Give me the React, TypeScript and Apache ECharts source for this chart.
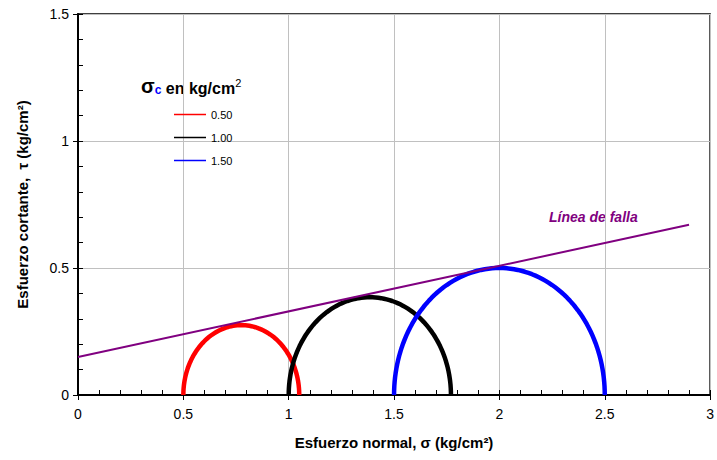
import React, { useEffect, useRef } from "react";
import * as echarts from "echarts";

// Mohr circles: minor and major principal stresses (kg/cm²)
const confiningLabels = ["0.50", "1.00", "1.50"];
const sigma3 = [0.5, 1.0, 1.5];
const sigma1 = [1.05, 1.77, 2.5];
const circleColors = ["#ff0000", "#000000", "#0000ff"];

// Failure envelope end points [σ, τ]
const failureLine = [
  [0, 0.15],
  [2.9, 0.67],
];

const xTicks = { min: 0, max: 3, interval: 0.5, minorInterval: 0.1 };
const yTicks = { min: 0, max: 1.5, interval: 0.5, minorInterval: 0.1 };

const FONT = "'Liberation Sans', Arial, sans-serif";

// Upper half of a Mohr circle through σ3 and σ1
function semicircle(s3: number, s1: number, steps = 90): number[][] {
  const c = (s1 + s3) / 2;
  const r = (s1 - s3) / 2;
  const pts: number[][] = [];
  for (let i = 0; i <= steps; i++) {
    const a = Math.PI - (Math.PI * i) / steps;
    pts.push([c + r * Math.cos(a), r * Math.sin(a)]);
  }
  return pts;
}

const nameStyle = { fontFamily: FONT, fontSize: 15, fontWeight: "bold", color: "#000" };
const tickLine = { color: "#000", width: 1 };

export default function App() {
  const ref = useRef<HTMLDivElement>(null);

  useEffect(() => {
    if (!ref.current) return;
    const chart = echarts.init(ref.current, null, { renderer: "svg" });

    const circleSeries = confiningLabels.map((name, i) => ({
      name,
      type: "line",
      data: semicircle(sigma3[i], sigma1[i]),
      showSymbol: false,
      symbol: "none",
      lineStyle: { color: circleColors[i], width: 4.5 },
      itemStyle: { color: circleColors[i] },
      z: 3,
    }));

    chart.setOption({
      animation: false,
      textStyle: { fontFamily: FONT },
      grid: {
        left: 78,
        right: 6,
        top: 14,
        bottom: 65,
        show: true,
        borderColor: "#000",
        borderWidth: 1.5,
      },
      legend: {
        data: confiningLabels,
        orient: "vertical",
        left: 169,
        top: 103,
        itemWidth: 32,
        itemHeight: 1.5,
        itemGap: 10,
        icon: "rect",
        textStyle: { fontFamily: FONT, fontSize: 11, color: "#000", lineHeight: 13 },
      },
      xAxis: [
        {
          type: "value",
          min: xTicks.min,
          max: xTicks.max,
          interval: xTicks.interval,
          name: "Esfuerzo normal, σ (kg/cm²)",
          nameLocation: "middle",
          nameGap: 40,
          nameTextStyle: nameStyle,
          axisLine: { onZero: false, lineStyle: { color: "#000", width: 2 } },
          axisTick: { show: true, inside: false, length: 5, lineStyle: tickLine },
          axisLabel: { fontFamily: FONT, fontSize: 14, color: "#000", margin: 12 },
          splitLine: { show: true, lineStyle: { color: "#c0c0c0", width: 1 } },
        },
        {
          // minor ticks pointing into the plot
          type: "value",
          position: "bottom",
          min: xTicks.min,
          max: xTicks.max,
          interval: xTicks.minorInterval,
          axisLine: { show: false, onZero: false },
          axisTick: { show: true, inside: true, length: 5, lineStyle: tickLine },
          axisLabel: { show: false },
          splitLine: { show: false },
        },
      ],
      yAxis: [
        {
          type: "value",
          min: yTicks.min,
          max: yTicks.max,
          interval: yTicks.interval,
          name: "Esfuerzo cortante,  τ (kg/cm²)",
          nameLocation: "middle",
          nameGap: 48,
          nameTextStyle: nameStyle,
          axisLine: { show: true, lineStyle: { color: "#000", width: 2 } },
          axisTick: { show: true, inside: false, length: 5, lineStyle: tickLine },
          axisLabel: { fontFamily: FONT, fontSize: 14, color: "#000", margin: 9 },
          splitLine: { show: true, lineStyle: { color: "#c0c0c0", width: 1 } },
        },
        {
          type: "value",
          position: "left",
          min: yTicks.min,
          max: yTicks.max,
          interval: yTicks.minorInterval,
          axisLine: { show: false },
          axisTick: { show: true, inside: true, length: 5, lineStyle: tickLine },
          axisLabel: { show: false },
          splitLine: { show: false },
        },
      ],
      series: [
        ...circleSeries,
        {
          name: "Línea de falla",
          type: "line",
          data: failureLine,
          showSymbol: false,
          symbol: "none",
          lineStyle: { color: "#800080", width: 2 },
          z: 4,
        },
      ],
      graphic: [
        {
          type: "text",
          left: 141,
          top: 76,
          style: {
            text: "{s|σ}{c|c}{t| en kg/cm}{p|2}",
            rich: {
              s: { fontFamily: FONT, fontSize: 20, fontWeight: "bold", fill: "#000", verticalAlign: "bottom" },
              c: { fontFamily: FONT, fontSize: 12, fontWeight: "bold", fill: "#0000ff", padding: [6, 0, 0, 0], verticalAlign: "bottom" },
              t: { fontFamily: FONT, fontSize: 16, fontWeight: "bold", fill: "#000", verticalAlign: "bottom" },
              p: { fontFamily: FONT, fontSize: 11, fontWeight: "normal", fill: "#000", padding: [0, 0, 8, 0], verticalAlign: "bottom" },
            },
          },
        },
        {
          type: "text",
          left: 549,
          top: 210,
          style: {
            text: "Línea de falla",
            fontFamily: FONT,
            fontSize: 14,
            fontWeight: "bold",
            fontStyle: "italic",
            fill: "#800080",
          },
        },
      ],
    });

    return () => chart.dispose();
  }, []);

  return <div ref={ref} style={{ width: 717, height: 460, position: "absolute", left: 0, top: 0, background: "#fff" }} />;
}
